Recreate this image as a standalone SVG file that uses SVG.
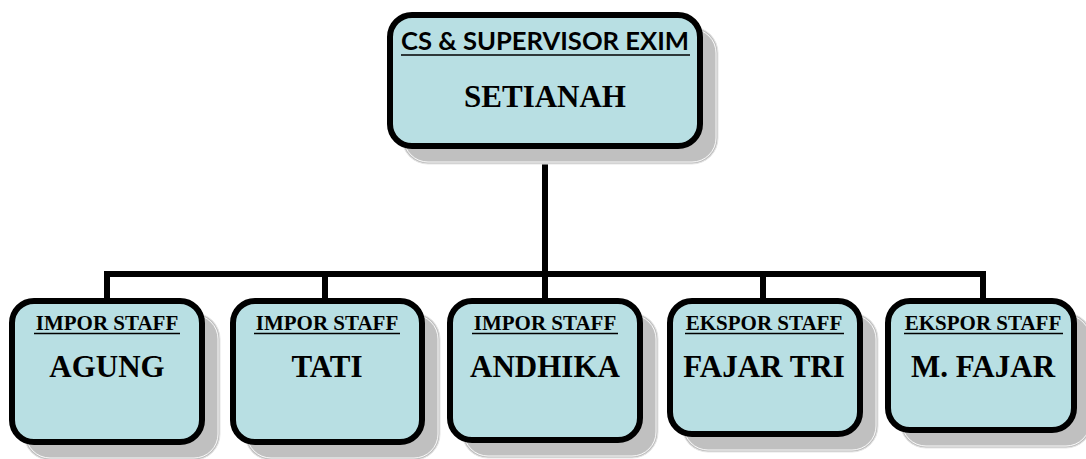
<svg xmlns="http://www.w3.org/2000/svg" width="1086" height="459" viewBox="0 0 1086 459">
<style>
.shadow{fill:#c0c0c0;stroke:#e6e6e6;stroke-width:1}
.shline{fill:none;stroke:#ffffff;stroke-width:0.9}
.box{fill:#b8dfe3;stroke:#000;stroke-width:6}
.conn{stroke:#000;stroke-width:6;fill:none;stroke-linecap:square}
.role{font-family:"Liberation Serif","Times New Roman",serif;font-weight:bold;font-size:21px;text-anchor:middle;fill:#000}
.name{font-family:"Liberation Serif","Times New Roman",serif;font-weight:bold;font-size:31px;text-anchor:middle;fill:#000}
.title{font-family:Lato,"Liberation Sans",sans-serif;font-weight:bold;font-size:24px;text-anchor:middle;fill:#000}
.ul{stroke:#000;stroke-width:1.6}
</style>
<rect width="1086" height="459" fill="#fff"/>
<g id="connectors">
<path class="conn" d="M545 149V274M107 274H983M107 274V297M325 274V297M545 274V297M763 274V297M983 274V297"/>
</g>
<g id="node-top">
<rect class="shadow" x="402" y="27" width="316" height="137" rx="26"/>
<rect class="shline" x="404" y="29" width="312" height="133" rx="24"/>
<rect class="box" x="390" y="15" width="310" height="131" rx="22"/>
<text class="title" x="545" y="50" textLength="288" lengthAdjust="spacingAndGlyphs">CS &amp; SUPERVISOR EXIM</text>
<line class="ul" x1="401" y1="55" x2="690" y2="55" stroke-width="2"/>
<text class="name" x="545" y="107">SETIANAH</text>
</g>
<g id="node-agung">
<rect class="shadow" x="24" y="313" width="196" height="147" rx="26"/>
<rect class="shline" x="26" y="315" width="192" height="143" rx="24"/>
<rect class="box" x="12" y="301" width="190" height="141" rx="22"/>
<text class="role" x="107" y="330">IMPOR STAFF</text>
<line class="ul" x1="34" y1="333.5" x2="180" y2="333.5"/>
<text class="name" x="107" y="377">AGUNG</text>
</g>
<g id="node-tati">
<rect class="shadow" x="245" y="313" width="195" height="147" rx="26"/>
<rect class="shline" x="247" y="315" width="191" height="143" rx="24"/>
<rect class="box" x="233" y="301" width="189" height="141" rx="22"/>
<text class="role" x="327" y="330">IMPOR STAFF</text>
<line class="ul" x1="254" y1="333.5" x2="400" y2="333.5"/>
<text class="name" x="327" y="377">TATI</text>
</g>
<g id="node-andhika">
<rect class="shadow" x="462" y="313" width="196" height="145" rx="26"/>
<rect class="shline" x="464" y="315" width="192" height="141" rx="24"/>
<rect class="box" x="450" y="301" width="190" height="139" rx="22"/>
<text class="role" x="545" y="330">IMPOR STAFF</text>
<line class="ul" x1="472" y1="333.5" x2="618" y2="333.5"/>
<text class="name" x="545" y="377">ANDHIKA</text>
</g>
<g id="node-fajar-tri">
<rect class="shadow" x="682" y="313" width="196" height="139" rx="26"/>
<rect class="shline" x="684" y="315" width="192" height="135" rx="24"/>
<rect class="box" x="670" y="301" width="190" height="133" rx="22"/>
<text class="role" x="764" y="330">EKSPOR STAFF</text>
<line class="ul" x1="685" y1="333.5" x2="844" y2="333.5"/>
<text class="name" x="764" y="377">FAJAR TRI</text>
</g>
<g id="node-m-fajar">
<rect class="shadow" x="900" y="313" width="192" height="135" rx="26"/>
<rect class="shline" x="902" y="315" width="188" height="131" rx="24"/>
<rect class="box" x="888" y="301" width="186" height="129" rx="22"/>
<text class="role" x="983" y="330">EKSPOR STAFF</text>
<line class="ul" x1="904" y1="333.5" x2="1063" y2="333.5"/>
<text class="name" x="983" y="377">M. FAJAR</text>
</g>
</svg>
